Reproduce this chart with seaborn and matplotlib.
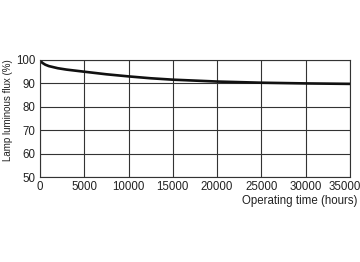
import matplotlib
matplotlib.use("Agg")
import matplotlib.pyplot as plt
import matplotlib.transforms as mtransforms
import seaborn as sns
import pandas as pd

hours = [0, 100, 300, 600, 1000, 2000, 3000, 5000, 7500, 10000, 12500, 15000, 17500, 20000, 25000, 30000, 35000]
flux = [100.0, 99.4, 98.7, 98.0, 97.4, 96.5, 95.9, 95.0, 93.9, 93.0, 92.2, 91.6, 91.2, 90.8, 90.3, 90.0, 89.8]
x_ticks = [0, 5000, 10000, 15000, 20000, 25000, 30000, 35000]
y_ticks = [50, 60, 70, 80, 90, 100]

sns.set_style("white")
plt.rcParams['font.family'] = ['Liberation Sans', 'DejaVu Sans']

df = pd.DataFrame({"hours": hours, "flux": flux})
fig = plt.figure(figsize=(3.6, 2.62), dpi=100)
ax = fig.add_axes([0.111, 0.324, 0.861, 0.447])
sns.lineplot(data=df, x="hours", y="flux", ax=ax, color="#111111", linewidth=1.9)
ax.set_xlim(0, 35000)
ax.set_ylim(50, 100)
ax.set_xticks(x_ticks)
ax.set_yticks(y_ticks)
ax.grid(True, color="#333333", linewidth=0.8)
for s in ax.spines.values():
    s.set_color("#333333")
    s.set_linewidth(0.8)
ax.tick_params(axis="both", labelsize=8.3, length=0, pad=3, colors="#222222")
last = ax.get_xticklabels()[-1]
last.set_transform(last.get_transform() + mtransforms.ScaledTranslation(-0.05, 0, fig.dpi_scale_trans))
ax.set_xlabel("Operating time (hours)", fontsize=8.3, color="#222222")
ax.xaxis.set_label_coords(1.025, -0.15)
ax.xaxis.label.set_horizontalalignment("right")
ax.set_ylabel("Lamp luminous flux (%)", fontsize=7.0, color="#222222")
ax.yaxis.set_label_coords(-0.103, 0.573)
ax.yaxis.label.set_verticalalignment("center")
fig.savefig("out.png", dpi=100)
